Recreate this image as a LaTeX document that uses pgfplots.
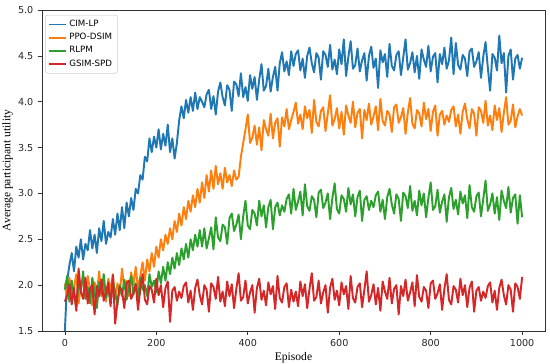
\documentclass[border=0pt]{standalone}
\usepackage{pgfplots}
\pgfplotsset{compat=1.18}
\usepackage{pgfplotstable}
\usepackage{fontspec}
\setmainfont{Liberation Serif}
\newfontfamily\dejavu{DejaVu Sans}
\definecolor{cB}{HTML}{1F77B4}
\definecolor{cO}{HTML}{FF7F0E}
\definecolor{cG}{HTML}{2CA02C}
\definecolor{cR}{HTML}{D62728}
\pgfplotstableread{
ep b o g r
0 1.50 2.02 1.95 1.82
5 2.05 1.85 2.10 1.89
10 2.22 2.08 1.82 2.01
15 2.35 1.90 2.05 1.79
20 2.15 1.97 1.88 1.97
25 2.42 2.12 1.76 1.72
30 2.30 1.80 2.02 2.18
35 2.50 1.98 1.93 1.93
40 2.28 2.05 2.15 1.85
45 2.45 1.86 1.85 2.08
50 2.38 2.10 1.98 1.80
55 2.60 1.95 1.80 1.96
60 2.40 1.78 2.08 2.00
65 2.55 2.03 1.92 1.68
70 2.35 1.92 1.75 1.99
75 2.62 2.15 2.03 1.88
80 2.48 1.88 1.90 2.06
85 2.70 2.00 2.12 1.83
90 2.45 1.82 1.86 1.92
95 2.58 2.07 1.97 2.03
100 2.52 1.94 1.80 1.77
105 2.72 2.12 2.05 2.11
110 2.55 1.85 1.92 1.58
115 2.78 2.02 1.78 1.82
120 2.60 1.90 2.00 1.98
125 2.85 2.18 1.88 1.94
130 2.62 1.96 2.06 1.75
135 2.90 2.05 1.84 2.02
140 2.75 1.88 1.98 2.05
145 2.95 2.14 2.10 1.85
150 2.82 2.00 1.90 1.91
155 3.05 2.20 2.02 2.01
160 3.00 1.95 1.85 1.73
165 3.20 2.10 2.08 1.96
170 3.15 2.25 1.95 2.12
175 3.40 2.05 2.00 1.84
180 3.35 2.28 1.88 1.79
185 3.60 2.15 2.12 1.99
190 3.45 2.35 1.98 1.95
195 3.62 2.20 2.05 1.81
200 3.50 2.42 1.92 2.07
205 3.70 2.30 2.15 1.89
210 3.48 2.50 2.02 2.00
215 3.65 2.38 2.20 1.76
220 3.52 2.55 2.05 1.97
225 3.75 2.45 2.25 2.04
230 3.45 2.62 2.12 1.60
235 3.60 2.50 2.30 1.94
240 3.38 2.70 2.18 1.98
245 3.55 2.58 2.35 1.83
250 3.80 2.78 2.22 1.93
255 3.95 2.65 2.40 1.86
260 3.82 2.85 2.28 1.99
265 4.02 2.72 2.45 2.03
270 3.88 2.92 2.30 1.81
275 4.05 2.80 2.50 1.94
280 3.90 2.98 2.38 1.73
285 4.10 2.85 2.55 1.97
290 3.92 3.05 2.42 2.06
295 4.05 2.90 2.60 1.89
300 4.00 3.12 2.42 1.79
305 3.94 2.95 2.62 2.00
310 4.08 3.20 2.40 1.95
315 4.13 3.02 2.51 1.71
320 3.92 3.25 2.63 2.02
325 4.06 3.05 2.39 1.98
330 3.86 3.30 2.74 1.85
335 4.11 3.10 2.52 2.09
340 4.21 3.22 2.48 1.82
345 4.05 3.05 2.66 1.93
350 3.96 3.28 2.63 1.77
355 4.18 3.12 2.45 2.04
360 4.13 3.20 2.73 1.88
365 3.90 3.08 2.78 2.01
370 4.22 3.25 2.59 1.75
375 4.19 3.15 2.66 1.96
380 4.06 3.18 2.77 2.13
385 4.31 3.40 2.50 1.83
390 4.05 3.55 2.75 1.87
395 4.16 3.70 2.92 2.05
400 4.01 3.86 2.65 1.80
405 4.29 3.55 2.61 1.92
410 4.14 3.61 2.82 2.00
415 4.27 3.74 2.78 1.70
420 4.02 3.53 2.65 1.97
425 4.24 3.72 2.92 2.07
430 4.41 3.47 2.75 1.84
435 4.12 3.80 2.87 1.94
440 4.17 3.70 2.63 1.78
445 4.36 3.63 2.85 2.03
450 4.11 3.87 2.93 1.90
455 4.27 3.60 2.61 1.99
460 4.38 3.77 2.85 1.74
465 4.12 3.82 2.90 2.10
470 4.42 3.51 2.76 1.86
475 4.54 3.83 2.87 1.81
480 4.33 3.73 2.80 1.98
485 4.44 3.92 2.94 2.02
490 4.29 3.70 2.99 1.76
495 4.55 3.80 2.78 1.95
500 4.39 3.89 3.05 1.82
505 4.52 3.99 2.82 1.93
510 4.56 3.76 2.91 1.77
515 4.34 3.86 3.02 2.04
520 4.47 3.70 2.76 1.88
525 4.26 3.95 3.10 2.01
530 4.50 3.82 2.86 1.75
535 4.59 3.91 2.81 1.96
540 4.42 3.66 2.97 2.13
545 4.32 4.02 2.93 1.83
550 4.53 3.78 2.74 1.87
555 4.48 3.73 3.01 2.05
560 4.24 3.90 3.04 1.80
565 4.55 3.94 2.84 1.92
570 4.51 3.68 2.90 2.00
575 4.38 3.87 3.00 1.70
580 4.62 4.07 2.72 1.97
585 4.35 3.74 2.95 2.07
590 4.46 3.81 3.11 1.84
595 4.30 3.93 2.83 1.94
600 4.57 3.71 2.78 1.78
605 4.41 3.89 2.98 2.03
610 4.68 3.64 2.94 1.90
615 4.28 3.96 2.80 1.99
620 4.49 3.85 3.06 1.74
625 4.66 3.77 2.88 2.10
630 4.36 4.00 2.99 1.86
635 4.40 3.72 2.75 1.81
640 4.58 3.88 2.96 1.98
645 4.33 3.92 3.03 2.02
650 4.45 3.60 2.70 1.76
655 4.53 3.91 2.93 1.95
660 4.23 3.80 2.97 2.15
665 4.50 3.98 2.82 1.82
670 4.60 3.75 2.92 1.89
675 4.37 3.84 2.85 2.01
680 4.47 3.95 2.98 1.79
685 4.15 3.69 3.02 1.97
690 4.56 4.03 2.80 1.72
695 4.43 3.79 2.93 2.04
700 4.52 3.74 2.72 1.93
705 4.27 3.90 2.96 1.85
710 4.63 3.86 3.05 2.08
715 4.39 3.67 2.88 1.80
720 4.34 3.94 2.78 1.96
725 4.51 3.97 2.99 2.00
730 4.55 3.77 2.94 1.68
735 4.29 3.83 2.70 1.99
740 4.48 3.93 3.01 1.88
745 4.68 3.65 2.97 2.06
750 4.35 3.88 2.84 1.83
755 4.42 4.04 3.08 1.92
760 4.54 3.76 2.81 2.03
765 4.32 3.71 2.92 1.77
770 4.50 3.91 2.76 2.11
775 4.25 3.87 3.03 1.87
780 4.57 3.73 2.87 1.82
785 4.46 3.99 3.00 1.98
790 4.38 3.81 2.74 1.94
795 4.61 3.92 2.95 1.75
800 4.33 3.68 3.12 2.02
805 4.49 3.89 2.82 2.05
810 4.53 3.96 2.86 1.85
815 4.21 3.63 3.04 1.91
820 4.52 3.86 2.79 2.01
825 4.41 3.90 2.91 1.73
830 4.59 3.75 2.99 1.96
835 4.36 3.85 2.69 2.12
840 4.45 3.78 2.96 1.84
845 4.70 3.91 3.06 1.79
850 4.30 3.95 2.83 1.99
855 4.64 3.73 2.93 1.95
860 4.40 3.86 2.77 1.81
865 4.35 3.65 3.02 2.07
870 4.51 3.89 2.89 1.89
875 4.47 3.98 2.98 2.00
880 4.28 3.81 2.73 1.76
885 4.55 3.71 3.09 1.97
890 4.58 3.92 2.85 2.04
895 4.38 3.87 2.80 1.71
900 4.44 3.63 2.97 1.94
905 4.54 3.94 3.01 1.98
910 4.26 3.90 2.75 1.83
915 4.49 3.77 2.94 1.93
920 4.65 4.01 3.14 1.86
925 4.37 3.74 2.81 1.99
930 4.12 3.85 2.88 2.03
935 4.52 3.69 3.00 1.81
940 4.48 3.96 2.78 1.94
945 4.34 3.80 2.96 1.73
950 4.72 3.93 2.71 1.97
955 4.42 3.67 3.03 2.06
960 4.53 3.88 2.92 1.89
965 4.10 4.05 2.84 1.79
970 4.50 3.75 3.07 2.00
975 4.57 3.79 2.79 1.95
980 4.24 3.97 2.95 1.71
985 4.47 3.72 2.99 2.02
990 4.51 3.84 2.67 1.98
995 4.36 3.92 2.98 1.85
1000 4.48 3.85 2.74 2.09
}\datatable
\begin{document}
\begin{tikzpicture}
\begin{axis}[
  scale only axis,
  width=377.25pt, height=240.75pt,
  xmin=-50, xmax=1050, ymin=1.5, ymax=5.0,
  xtick={0,200,400,600,800,1000},
  ytick={1.5,2.0,2.5,3.0,3.5,4.0,4.5,5.0},
  xticklabel style={/pgf/number format/.cd, 1000 sep={}},
  yticklabel style={/pgf/number format/.cd, fixed, fixed zerofill, precision=1},
  /pgf/number format/assume math mode=true,
  tick label style={font=\dejavu\fontsize{7.2}{8.5}\selectfont, text=black!85},
  tick align=outside, tick pos=left,
  major tick length=3pt,
  every tick/.style={black!80, line width=0.5pt},
  axis line style={black!80, line width=0.6pt},
  xlabel={Episode}, ylabel={Average participant utility},
  label style={font=\fontsize{8.7}{10}\selectfont},
  xlabel style={yshift=3pt},
  ylabel style={yshift=-3pt},
  legend style={at={(0.006,0.985)}, anchor=north west, font=\dejavu\fontsize{6.5}{7.5}\selectfont,
    draw=black!20, rounded corners=2pt, fill=white, fill opacity=0.8, text opacity=1,
    row sep=-0.5pt, inner sep=2pt},
  legend cell align=left,
  legend image code/.code={\draw[#1, line width=1.2pt] (0cm,0cm) -- (0.45cm,0cm);},
  every axis plot/.append style={line width=1.45pt, line join=round},
]
\addplot[cB] table[x=ep, y=b] {\datatable};
\addlegendentry{CIM-LP}
\addplot[cO] table[x=ep, y=o] {\datatable};
\addlegendentry{PPO-DSIM}
\addplot[cG] table[x=ep, y=g] {\datatable};
\addlegendentry{RLPM}
\addplot[cR] table[x=ep, y=r] {\datatable};
\addlegendentry{GSIM-SPD}
\end{axis}
\pgfresetboundingbox
\path ([shift={(-31.5pt,-24.75pt)}]current axis.south west) rectangle ([shift={(3.75pt,7.5pt)}]current axis.north east);
\end{tikzpicture}
\end{document}
